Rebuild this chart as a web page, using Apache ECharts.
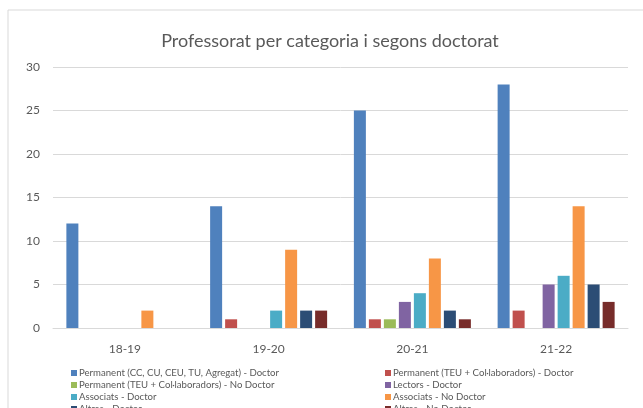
<!DOCTYPE html>
<html>
<head>
<meta charset="utf-8">
<script src="https://cdn.jsdelivr.net/npm/echarts@6/dist/echarts.min.js"></script>
<style>
  html, body { margin: 0; padding: 0; background: #fff; }
  #chart { width: 643px; height: 408px; }
</style>
</head>
<body>
<div id="chart"></div>
<script>
// courses on the x axis
const courses = ["18-19", "19-20", "20-21", "21-22"];

const seriesNames = [
  "Permanent (CC, CU, CEU, TU, Agregat) - Doctor",
  "Permanent (TEU + Col·laboradors) - Doctor",
  "Permanent (TEU + Col·laboradors) - No Doctor",
  "Lectors - Doctor",
  "Associats - Doctor",
  "Associats - No Doctor",
  "Altres - Doctor",
  "Altres - No Doctor"
];

// one array per series, values per course
const permDoctor = [12, 14, 25, 28];
const permTeuDoctor = [0, 1, 1, 2];
const permTeuNoDoctor = [0, 0, 1, 0];
const lectorsDoctor = [0, 0, 3, 5];
const associatsDoctor = [0, 2, 4, 6];
const associatsNoDoctor = [2, 9, 8, 14];
const altresDoctor = [0, 2, 2, 5];
const altresNoDoctor = [0, 2, 1, 3];

const seriesValues = [
  permDoctor, permTeuDoctor, permTeuNoDoctor, lectorsDoctor,
  associatsDoctor, associatsNoDoctor, altresDoctor, altresNoDoctor
];

const colors = ["#4F81BD", "#C0504D", "#9BBB59", "#8064A2", "#4BACC6", "#F79646", "#2C4D75", "#772C2A"];

const chart = echarts.init(document.getElementById("chart"));

const legendBase = {
  orient: "vertical",
  top: 367,
  height: 100,
  padding: 0,
  itemWidth: 6,
  itemHeight: 6,
  itemGap: 0,
  icon: "rect",
  textStyle: { fontFamily: "Lato", fontSize: 9.6, color: "#595959", lineHeight: 12, padding: [0, 0, 0, -3] },
  selectedMode: false
};

const option = {
  animation: false,
  color: colors,
  textStyle: { fontFamily: "Lato" },
  title: {
    text: "Professorat per categoria i segons doctorat",
    left: 325,
    top: 27,
    textAlign: "center",
    textStyle: { fontFamily: "Lato", fontSize: 18, fontWeight: "normal", color: "#595959" }
  },
  graphic: [{
    type: "rect",
    shape: { x: 8, y: 10, width: 660, height: 420 },
    style: { fill: "none", stroke: "#d9d9d9", lineWidth: 1 },
    silent: true
  }],
  legend: [
    Object.assign({}, legendBase, { left: 71, data: [seriesNames[0], seriesNames[2], seriesNames[4], seriesNames[6]] }),
    Object.assign({}, legendBase, { left: 385, data: [seriesNames[1], seriesNames[3], seriesNames[5], seriesNames[7]] })
  ],
  grid: { left: 53, right: 15, top: 67, bottom: 80 },
  xAxis: {
    type: "category",
    data: courses,
    axisTick: { show: false },
    axisLine: { lineStyle: { color: "#d9d9d9", width: 1 } },
    axisLabel: { color: "#595959", fontSize: 12, margin: 15 }
  },
  yAxis: {
    type: "value",
    min: 0,
    max: 30,
    interval: 5,
    axisLine: { show: false },
    axisTick: { show: false },
    splitLine: { lineStyle: { color: "#d9d9d9", width: 1 } },
    axisLabel: { color: "#595959", fontSize: 12, margin: 13 }
  },
  series: seriesNames.map((name, i) => ({
    name: name,
    type: "bar",
    data: seriesValues[i],
    barWidth: 12,
    barGap: "25%",
    itemStyle: { color: colors[i] }
  }))
};

chart.setOption(option);
</script>
</body>
</html>
